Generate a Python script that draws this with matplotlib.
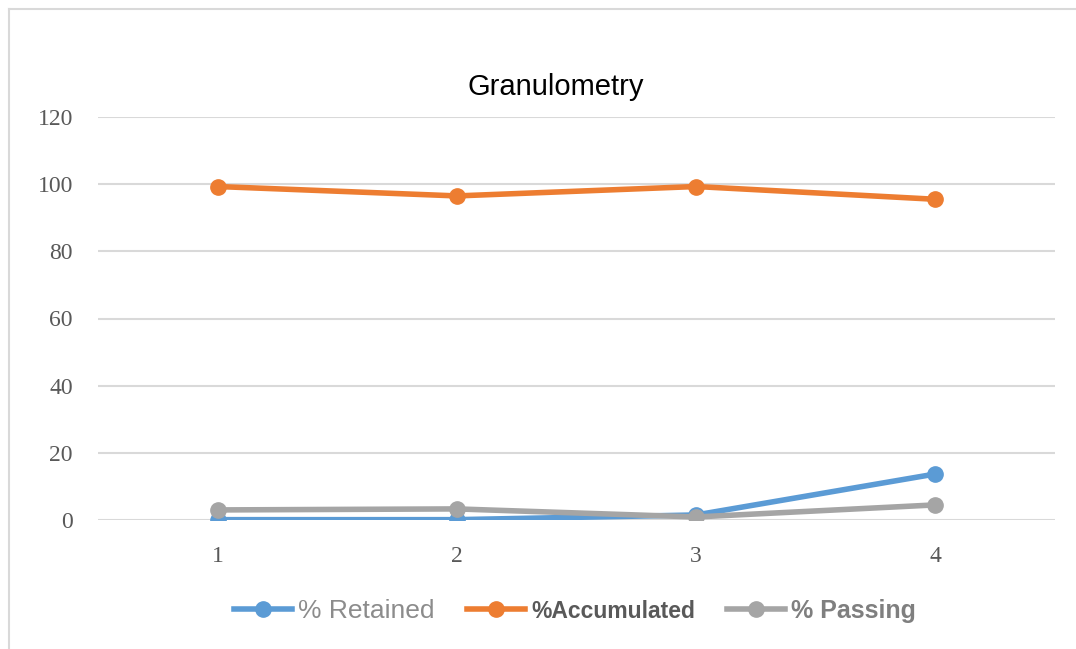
import matplotlib.pyplot as plt
from matplotlib.lines import Line2D

# Data
x = [1, 2, 3, 4]
retained = [0.1, 0.1, 1.5, 13.7]
accumulated = [99.3, 96.5, 99.3, 95.5]
passing = [3.0, 3.3, 0.9, 4.5]

fig = plt.figure(figsize=(10.76, 6.49), dpi=100)
ax = fig.add_axes([98 / 1076, 1 - 520 / 649, (1055 - 98) / 1076, (520 - 117) / 649])

ax.plot(x, retained, color="#5b9bd5", lw=4, marker="o", ms=11, solid_capstyle="round", zorder=3)
ax.plot(x, accumulated, color="#ed7d31", lw=4, marker="o", ms=11, solid_capstyle="round", zorder=3)
ax.plot(x, passing, color="#a5a5a5", lw=4, marker="o", ms=11, solid_capstyle="round", zorder=3)

ax.set_xlim(0.5, 4.5)
ax.set_ylim(0, 120)
ax.set_yticks(range(0, 121, 20))
ax.set_xticks(x)
ax.grid(axis="y", color="#d9d9d9", lw=1.5)
ax.set_axisbelow(True)
for s in ax.spines.values():
    s.set_visible(False)
ax.tick_params(length=0, labelsize=17, labelcolor="#595959")
ax.tick_params(axis="x", pad=19)
ax.tick_params(axis="y", pad=18)
for lab in ax.get_xticklabels() + ax.get_yticklabels():
    lab.set_family("Liberation Serif")

fig.text(556 / 1076, 1 - 87 / 649, "Granulometry", ha="center", va="center",
         fontsize=21, family="Liberation Sans", color="#000000")

# Legend
handles = [
    Line2D([0], [0], color="#5b9bd5", lw=4, marker="o", ms=11),
    Line2D([0], [0], color="#ed7d31", lw=4, marker="o", ms=11),
    Line2D([0], [0], color="#a5a5a5", lw=4, marker="o", ms=11),
]
leg = fig.legend(handles, ["% Retained", "%Accumulated", "% Passing"], loc="center",
                 bbox_to_anchor=(575 / 1076, 1 - 611 / 649), ncol=3, frameon=False,
                 handlelength=2.2, handletextpad=0.25, columnspacing=1.2,
                 prop={"family": "Liberation Sans", "size": 19})
texts = leg.get_texts()
texts[0].set_color("#8c8c8c")
texts[1].set_color("#595959")
texts[1].set_fontweight("bold")
texts[1].set_fontsize(16.5)
texts[2].set_color("#7f7f7f")
texts[2].set_fontweight("bold")
texts[2].set_fontsize(18)

# Outer border (top and left only visible)
fig.add_artist(Line2D([9 / 1076, 1], [1 - 9 / 649, 1 - 9 / 649], color="#d9d9d9", lw=1.5))
fig.add_artist(Line2D([9 / 1076, 9 / 1076], [0, 1 - 9 / 649], color="#d9d9d9", lw=1.5))

fig.savefig("out.png", dpi=100)
